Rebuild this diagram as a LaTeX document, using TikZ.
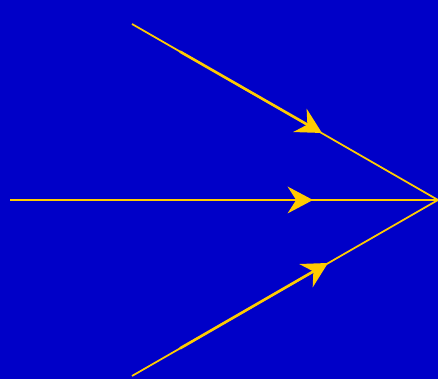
\documentclass[tikz,border=0pt]{standalone}
\usepackage{tikz}
\usetikzlibrary{arrows.meta}
\definecolor{bgblue}{RGB}{0,0,200}
\definecolor{rayyellow}{RGB}{255,204,0}

\begin{document}
\begin{tikzpicture}[
  ray/.style={draw=rayyellow, line width=0.5pt},
  raybold/.style={draw=rayyellow, line width=0.75pt,
                  -{Stealth[length=7.2pt, width=7.6pt, inset=2.4pt]}}
]
% ---- fond -------------------------------------------------------------
\fill[bgblue] (0,0) rectangle (4.38,3.79);
\useasboundingbox (0,0) rectangle (4.38,3.79);

% ---- points ------------------------------------------------------------
\coordinate (focus) at (4.38,1.79);
\coordinate (srcTop) at (1.32,3.55);
\coordinate (srcMid) at (0.10,1.79);
\coordinate (srcBot) at (1.32,0.03);
\coordinate (boldTop) at (1.80,3.274);
\coordinate (boldMid) at (1.38,1.79);
\coordinate (boldBot) at (1.80,0.306);
\coordinate (tipTop) at (3.22,2.46);
\coordinate (tipMid) at (3.13,1.79);
\coordinate (tipBot) at (3.28,1.16);

% ---- rayons ------------------------------------------------------------
\foreach \r in {Top,Mid,Bot}{
  \draw[ray] (src\r) -- (focus);
  \draw[raybold] (bold\r) -- (tip\r);
}
\end{tikzpicture}
\end{document}
